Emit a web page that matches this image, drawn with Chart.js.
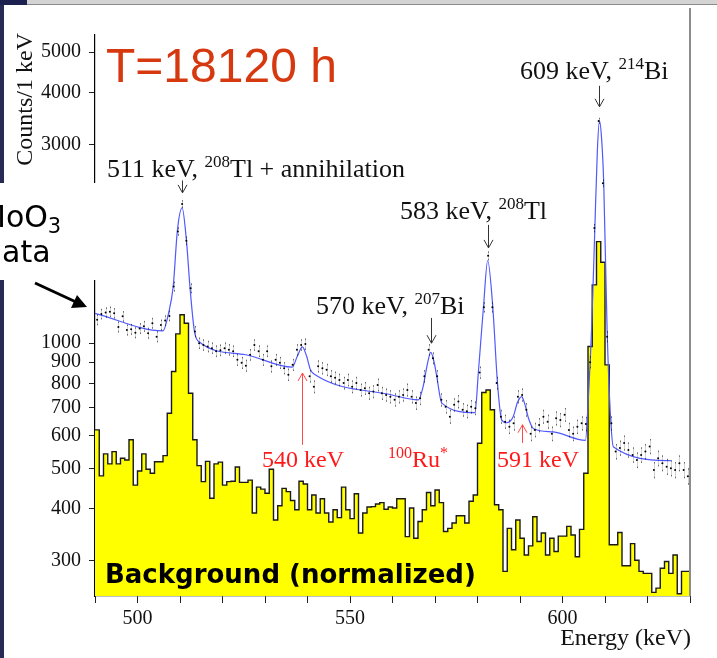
<!DOCTYPE html>
<html>
<head>
<meta charset="utf-8">
<script src="https://cdn.jsdelivr.net/npm/chart.js@4.4.0/dist/chart.umd.min.js"></script>
<style>
  body { margin: 0; background: #fff; }
  #page { position: relative; width: 717px; height: 658px; overflow: hidden; background: #fff; }
  #c { position: absolute; left: 0; top: 0; }
  .lbl { position: absolute; white-space: nowrap; font-family: "Liberation Serif", "DejaVu Serif", serif; line-height: 1; }
  .lbl sup { font-size: 17px; vertical-align: 10px; line-height: 0; }
  .ann { font-size: 26px; color: #111; }
  .red { color: #ff1a1a; font-size: 24px; }
  .red sup { font-size: 16px; vertical-align: 9px; }
</style>
</head>
<body>
<div id="page">
  <canvas id="c" width="717" height="658"></canvas>

  <!-- slide decoration -->
  <div style="position:absolute;left:0;top:0;width:717px;height:4px;background:#d4d4d4;border-bottom:1px solid #8a8a8a"></div>
  <div style="position:absolute;left:0;top:0;width:27px;height:5px;background:#1d2150"></div>
  <div style="position:absolute;left:0;top:5px;width:4px;height:653px;background:#262a55"></div>

  <!-- axis titles -->
  <div class="lbl" style="left:12px;top:233px;width:200px;text-align:right;font-size:24px;color:#111;transform-origin:0 0;transform:rotate(-90deg)">Counts/1 keV</div>
  <div class="lbl" style="left:491px;top:625px;width:200px;text-align:right;font-size:24px;color:#111">Energy (keV)</div>

  <!-- peak labels -->
  <div class="lbl ann" style="left:520px;top:58px">609 keV, <sup>214</sup>Bi</div>
  <div class="lbl ann" style="left:107px;top:156px">511 keV, <sup>208</sup>Tl + annihilation</div>
  <div class="lbl ann" style="left:400px;top:198px">583 keV, <sup>208</sup>Tl</div>
  <div class="lbl ann" style="left:316px;top:293px">570 keV, <sup>207</sup>Bi</div>
  <div class="lbl red" style="left:262px;top:447px">540 keV</div>
  <div class="lbl red" style="left:388px;top:447px"><sup>100</sup>Ru<sup>*</sup></div>
  <div class="lbl red" style="left:497px;top:447px">591 keV</div>

  <!-- slide overlays -->
  <div style="position:absolute;left:106px;top:42px;font-family:'Liberation Sans',Arial,sans-serif;font-size:48px;line-height:1;color:#d6390f;white-space:nowrap">T=18120 h</div>
  <div style="position:absolute;left:0;top:183px;width:97px;height:97px;background:#fff;overflow:hidden">
    <div style="position:absolute;left:-20px;top:19px;font-family:'DejaVu Sans',sans-serif;font-size:30px;line-height:1;color:#000;white-space:nowrap">MoO<span style="font-size:21px;position:relative;top:6px">3</span></div>
    <div style="position:absolute;left:-17px;top:54px;font-family:'DejaVu Sans',sans-serif;font-size:30px;line-height:1;color:#000;white-space:nowrap">data</div>
  </div>
  <svg style="position:absolute;left:0;top:0" width="717" height="658">
    <line x1="35" y1="283" x2="76" y2="302" stroke="#000" stroke-width="3"/>
    <polygon points="87,307 71,308 77,295" fill="#000"/>
  </svg>
  <div style="position:absolute;left:105px;top:561px;font-family:'DejaVu Sans',sans-serif;font-weight:bold;font-size:26px;line-height:1;color:#000;white-space:nowrap">Background (normalized)</div>
</div>

<script>
// bins of 1 keV starting at 490 keV
const binStart = 490;
const binCount = 140;

// MoO3 data, counts per 1 keV (bin centres 490.5 ... 629.5)
const dataCounts = [
  1138, 1175, 1185, 1190, 1180, 1094, 1160, 1076, 1080, 1060,
  1085, 1098, 1057, 1117, 1037, 1106, 1133, 1163, 1368, 1855,
  2160, 1762, 1355, 1067, 1000, 990, 982, 973, 957, 962,
  973, 964, 957, 912, 897, 883, 938, 990, 957, 912,
  957, 880, 912, 897, 871, 840, 887, 964, 990, 995,
  833, 786, 880, 871, 863, 833, 826, 816, 802, 816,
  786, 802, 772, 779, 758, 765, 794, 758, 751, 744,
  731, 744, 751, 772, 744, 718, 737, 833, 964, 920,
  833, 731, 704, 666, 711, 724, 692, 686, 704, 698,
  850, 1220, 1622, 1220, 802, 666, 648, 630, 642, 744,
  751, 692, 606, 619, 636, 666, 648, 606, 660, 654,
  673, 619, 606, 630, 642, 640, 900, 1890, 3420, 2423,
  1037, 642, 549, 560, 576, 554, 539, 524, 539, 549,
  565, 496, 529, 515, 505, 501, 496, 515, 496, 479
];

// background spectrum (normalized), same bins
const bgCounts = [
  619, 480, 542, 513, 549, 513, 529, 524, 586, 456,
  493, 542, 498, 487, 519, 519, 537, 679, 855, 1053,
  1170, 1117, 758, 586, 508, 465, 520, 424, 513, 518,
  456, 465, 466, 504, 463, 463, 469, 391, 451, 446,
  436, 498, 376, 407, 448, 440, 419, 398, 466, 459,
  398, 432, 391, 423, 391, 372, 398, 381, 451, 398,
  379, 435, 350, 391, 404, 405, 411, 414, 399, 404,
  402, 423, 423, 343, 402, 340, 373, 398, 438, 407,
  444, 414, 353, 359, 370, 385, 385, 370, 417, 432,
  575, 761, 772, 692, 409, 398, 283, 359, 319, 376,
  340, 310, 326, 383, 334, 350, 310, 340, 316, 344,
  344, 363, 346, 307, 357, 487, 982, 1381, 1754, 1565,
  887, 328, 328, 351, 292, 292, 330, 301, 283, 280,
  280, 252, 258, 288, 299, 280, 310, 250, 283, 283
];

// fitted curve
const fitE = [490, 506.0, 507.3, 508.4, 509.4, 510.5, 511.5, 512.4, 513.4, 514.4,
  525.4, 536.4, 537.6, 538.8, 539.8, 540.7, 541.8, 559.9, 566.1, 567.2,
  568.1, 569.0, 569.8, 570.4, 571.6, 579.4, 580.2, 581.4, 582.4, 583.6,
  584.7, 585.7, 586.8, 588.4, 589.4, 590.4, 591.2, 592.0, 593.2, 597.8,
  605.4, 606.1, 606.9, 607.6, 608.2, 608.7, 609.2, 609.7, 610.5, 611.3,
  612.0, 625.5];
const fitCounts = [1180, 1070, 1180, 1368, 1872, 2115, 1771, 1343, 1067, 1009,
  938, 876, 930, 980, 930, 863, 840, 751, 731, 786,
  880, 951, 900, 833, 718, 681, 850, 1220, 1580, 1220,
  802, 654, 644, 666, 720, 744, 710, 660, 623, 612,
  584, 744, 1117, 1872, 2900, 3420, 3100, 2423, 1076, 666,
  563, 522];

const yTicks = [300, 400, 500, 600, 700, 800, 900, 1000, 2000, 3000, 4000, 5000];
const xMajor = [500, 550, 600];

// peak markers: energy, count at arrow tail, count at arrow tip
const blackArrows = [[510.5, 2460, 2297], [569.0, 1150, 1000], [582.4, 1924, 1694], [608.7, 4152, 3697]];
const redArrows = [[538.8, 570, 848], [590.4, 576, 637]];

const histPts = bgCounts.map((v, i) => ({ x: binStart + i, y: v }));
histPts.push({ x: binStart + binCount, y: bgCounts[binCount - 1] });
const dataPts = dataCounts.map((v, i) => ({ x: binStart + i + 0.5, y: v }));
const fitPts = fitE.map((e, i) => ({ x: e, y: fitCounts[i] }));

function arrow(ctx, x, y1, y2, color) {
  ctx.save();
  ctx.strokeStyle = color;
  ctx.lineWidth = 1;
  ctx.beginPath();
  ctx.moveTo(x, y1);
  ctx.lineTo(x, y2);
  const d = y2 > y1 ? -1 : 1;
  ctx.moveTo(x - 4.5, y2 + d * 8);
  ctx.lineTo(x, y2);
  ctx.lineTo(x + 4.5, y2 + d * 8);
  ctx.stroke();
  ctx.restore();
}

const extras = {
  id: 'extras',
  afterDatasetsDraw(chart) {
    const ctx = chart.ctx;
    const xs = chart.scales.x, ys = chart.scales.y;
    const area = chart.chartArea;
    // error bars of the data points
    ctx.save();
    ctx.beginPath();
    ctx.rect(area.left, area.top, area.right - area.left, area.bottom - area.top);
    ctx.clip();
    dataPts.forEach(p => {
      const e = Math.sqrt(p.y);
      const px = Math.round(xs.getPixelForValue(p.x)) + 0.5;
      const top = ys.getPixelForValue(p.y + e);
      const bot = ys.getPixelForValue(p.y - e);
      ctx.strokeStyle = 'rgba(0,0,0,0.18)';
      ctx.lineWidth = 1;
      ctx.beginPath();
      ctx.moveTo(px, top);
      ctx.lineTo(px, bot);
      ctx.stroke();
      ctx.fillStyle = 'rgba(0,0,0,0.5)';
      ctx.fillRect(px - 0.5, top, 1, 1.5);
      ctx.fillRect(px - 0.5, bot - 1.5, 1, 1.5);
    });
    ctx.restore();
    // right frame line
    ctx.save();
    ctx.strokeStyle = '#8c8c8c';
    ctx.lineWidth = 2;
    ctx.beginPath();
    ctx.moveTo(area.right, 8);
    ctx.lineTo(area.right, area.bottom);
    ctx.stroke();
    ctx.restore();
    blackArrows.forEach(a => {
      const x = Math.round(xs.getPixelForValue(a[0])) + 0.5;
      arrow(ctx, x, ys.getPixelForValue(a[1]), ys.getPixelForValue(a[2]), '#333');
    });
    redArrows.forEach(a => {
      const x = Math.round(xs.getPixelForValue(a[0])) + 0.5;
      arrow(ctx, x, ys.getPixelForValue(a[1]), ys.getPixelForValue(a[2]), '#ff4a4a');
    });
  }
};

new Chart(document.getElementById('c'), {
  type: 'scatter',
  data: {
    datasets: [
      {
        label: 'data',
        data: dataPts,
        order: 0,
        pointRadius: 1.0,
        pointBackgroundColor: '#000',
        pointBorderWidth: 0,
        showLine: false
      },
      {
        label: 'fit',
        data: fitPts,
        order: 1,
        showLine: true,
        borderColor: '#5058ff',
        borderWidth: 1.2,
        pointRadius: 0,
        cubicInterpolationMode: 'monotone'
      },
      {
        label: 'background',
        data: histPts,
        order: 2,
        showLine: true,
        stepped: 'before',
        borderColor: '#1a1a1a',
        borderWidth: 1.4,
        backgroundColor: '#ffff00',
        fill: 'start',
        pointRadius: 0
      }
    ]
  },
  options: {
    responsive: false,
    animation: false,
    devicePixelRatio: 1,
    layout: { padding: { left: 0, top: 35, right: 27, bottom: 0 } },
    plugins: { legend: { display: false }, tooltip: { enabled: false } },
    scales: {
      x: {
        type: 'linear',
        min: 490,
        max: 630,
        afterFit(s) { s.height = 62; },
        afterBuildTicks(s) {
          const t = [];
          for (let v = 490; v <= 630; v += 10) t.push({ value: v });
          s.ticks = t;
        },
        ticks: {
          autoSkip: false,
          maxRotation: 0,
          padding: 4,
          color: '#111',
          font: { family: 'Liberation Serif', size: 20 },
          callback: v => xMajor.includes(v) ? String(v) : ''
        },
        grid: { drawOnChartArea: false, drawTicks: true, tickLength: 7, tickColor: '#222' },
        border: { display: true, color: '#000', width: 1.2 }
      },
      y: {
        type: 'logarithmic',
        min: 247,
        max: 5500,
        afterFit(s) { s.width = 95; },
        afterBuildTicks(s) { s.ticks = yTicks.map(v => ({ value: v })); },
        ticks: {
          autoSkip: false,
          padding: 8,
          color: '#111',
          font: { family: 'Liberation Serif', size: 20 },
          callback: v => String(v)
        },
        grid: { drawOnChartArea: false, drawTicks: true, tickLength: 6, tickColor: '#222' },
        border: { display: true, color: '#000', width: 1.2 }
      }
    }
  },
  plugins: [extras]
});
</script>
</body>
</html>
